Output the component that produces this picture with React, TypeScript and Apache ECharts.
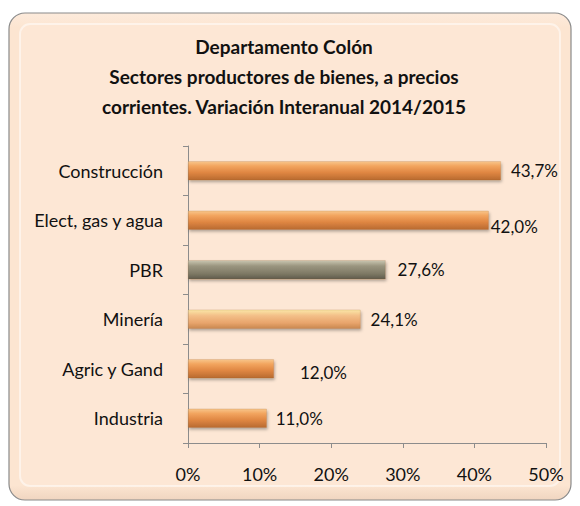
import React, { useEffect, useRef } from "react";
import * as echarts from "echarts";

const categories = ["Construcción", "Elect, gas y agua", "PBR", "Minería", "Agric y Gand", "Industria"];
const values = [43.7, 42.0, 27.6, 24.1, 12.0, 11.0];
const valueLabels = ["43,7%", "42,0%", "27,6%", "24,1%", "12,0%", "11,0%"];
const xTicks = [0, 10, 20, 30, 40, 50];
const titleLines = [
  "Departamento Colón",
  "Sectores productores de bienes, a precios",
  "corrientes. Variación Interanual 2014/2015",
];

const FONT = "Lato, 'Open Sans', sans-serif";

const orange = new echarts.graphic.LinearGradient(0, 0, 0, 1, [
  { offset: 0, color: "#F8C58A" },
  { offset: 0.25, color: "#F2A45E" },
  { offset: 0.6, color: "#DF8642" },
  { offset: 1, color: "#B86A30" },
]);
const light = new echarts.graphic.LinearGradient(0, 0, 0, 1, [
  { offset: 0, color: "#FBE6A6" },
  { offset: 0.3, color: "#F3C089" },
  { offset: 0.7, color: "#E8A46C" },
  { offset: 1, color: "#C98850" },
]);
const grey = new echarts.graphic.LinearGradient(0, 0, 0, 1, [
  { offset: 0, color: "#C9C5B0" },
  { offset: 0.3, color: "#9A957F" },
  { offset: 0.7, color: "#7F7A66" },
  { offset: 1, color: "#5F5B4C" },
]);
const barColors = [orange, orange, grey, light, orange, orange];
const labelDx = [10, 2, 12, 10, 26, 9];
const labelDy = [0, 6, 0, 0, 4, 0];

export default function App() {
  const ref = useRef<HTMLDivElement>(null);
  useEffect(() => {
    if (!ref.current) return;
    const chart = echarts.init(ref.current, null, { renderer: "svg" });
    chart.setOption({
      animation: false,
      backgroundColor: "#ffffff",
      graphic: [
        {
          type: "rect",
          shape: { x: 9, y: 13, width: 562, height: 487, r: 16 },
          style: {
            fill: new echarts.graphic.LinearGradient(0, 0, 0, 1, [
              { offset: 0, color: "#FDEBDC" },
              { offset: 0.03, color: "#FCE5D1" },
              { offset: 0.97, color: "#FCE5D1" },
              { offset: 1, color: "#F0D5C0" },
            ]),
            stroke: "#8A8A8A",
            lineWidth: 1.2,
          },
          z: -10,
        },
        {
          type: "rect",
          shape: { x: 20, y: 24, width: 540, height: 462, r: 10 },
          style: { fill: "#FDE7D5", stroke: "rgba(255,255,255,0.5)", lineWidth: 2 },
          z: -9,
        },
        ...titleLines.map((t, i) => ({
          type: "text",
          x: 284,
          y: 46 + i * 30,
          style: {
            text: t,
            font: `bold 19px ${FONT}`,
            fill: "#111",
            align: "center",
            verticalAlign: "middle",
          },
        })),
      ],
      grid: { left: 188, right: 34, top: 146, bottom: 63 },
      xAxis: {
        type: "value",
        min: 0,
        max: 50,
        interval: 10,
        axisLine: { show: true, lineStyle: { color: "#8C8C8C" } },
        axisTick: { show: true, length: 5, lineStyle: { color: "#8C8C8C" } },
        splitLine: { show: false },
        axisLabel: {
          margin: 22,
          fontFamily: FONT,
          fontSize: 18,
          color: "#111",
          formatter: (v: number) => (xTicks.includes(v) ? `${v}%` : ""),
        },
      },
      yAxis: {
        type: "category",
        data: categories,
        inverse: true,
        axisLine: { show: true, lineStyle: { color: "#8C8C8C" } },
        axisTick: { show: true, length: 5, lineStyle: { color: "#8C8C8C" } },
        axisLabel: { margin: 25, fontFamily: FONT, fontSize: 18, color: "#111" },
      },
      series: [
        {
          type: "bar",
          barWidth: 19,
          data: values.map((v, i) => ({
            value: v,
            itemStyle: {
              color: barColors[i],
              borderColor: "rgba(150,90,40,0.35)",
              borderWidth: 0.5,
              shadowColor: "rgba(0,0,0,0.3)",
              shadowBlur: 3,
              shadowOffsetX: 1,
              shadowOffsetY: 2,
            },
            label: {
              show: true,
              position: "right",
              distance: labelDx[i],
              offset: [0, labelDy[i]],
              formatter: valueLabels[i],
              fontFamily: FONT,
              fontSize: 17,
              color: "#111",
            },
          })),
        },
      ],
    });
    return () => chart.dispose();
  }, []);
  return (
    <div
      ref={ref}
      style={{ position: "absolute", left: 0, top: 0, width: 580, height: 506 }}
    />
  );
}
